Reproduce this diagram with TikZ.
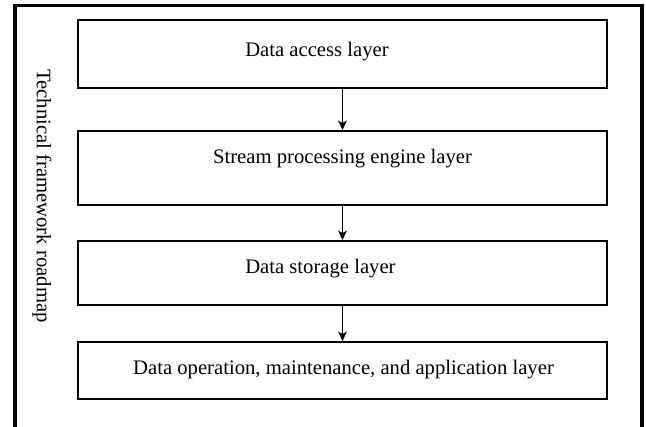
\documentclass[tikz,border=0pt]{standalone}
\usepackage{fontspec}
\setmainfont{Liberation Serif}
\usetikzlibrary{arrows.meta}
\begin{document}
\begin{tikzpicture}[x=0.75pt, y=-0.75pt,
  layer/.style={draw, line width=1.5pt, minimum width=396.75pt, inner sep=0pt},
  txt/.style={font=\fontsize{15.5}{18}\selectfont, inner sep=0pt},
  arr/.style={line width=1.3pt, -{Stealth[length=7pt, width=6.5pt, inset=1.8pt]}}]
\useasboundingbox (0,0) rectangle (646,427);
\draw[line width=2.6pt] (15,430) -- (15,5.5) -- (642,5.5) -- (642,430);
\node[txt, rotate=-90] (title) at (42,196) {Technical framework roadmap};
% layers
\node[layer, minimum height=51pt] (access) at (342.5,54) {};
\node[layer, minimum height=55.5pt] (stream) at (342.5,168) {};
\node[layer, minimum height=48pt] (storage) at (342.5,273) {};
\node[layer, minimum height=42.75pt] (operation) at (342.5,370.5) {};
\node[txt, anchor=base west] (accesstxt) at (245,57) {Data access layer};
\node[txt, anchor=base] (streamtxt) at (342.5,164) {Stream processing engine layer};
\node[txt, anchor=base west] (storagetxt) at (245,274) {Data storage layer};
\node[txt, anchor=base] (operationtxt) at (343.5,375) {Data operation, maintenance, and application layer};
\draw[arr] (access) -- (stream);
\draw[arr] (stream) -- (storage);
\draw[arr] (storage) -- (operation);
\end{tikzpicture}
\end{document}
